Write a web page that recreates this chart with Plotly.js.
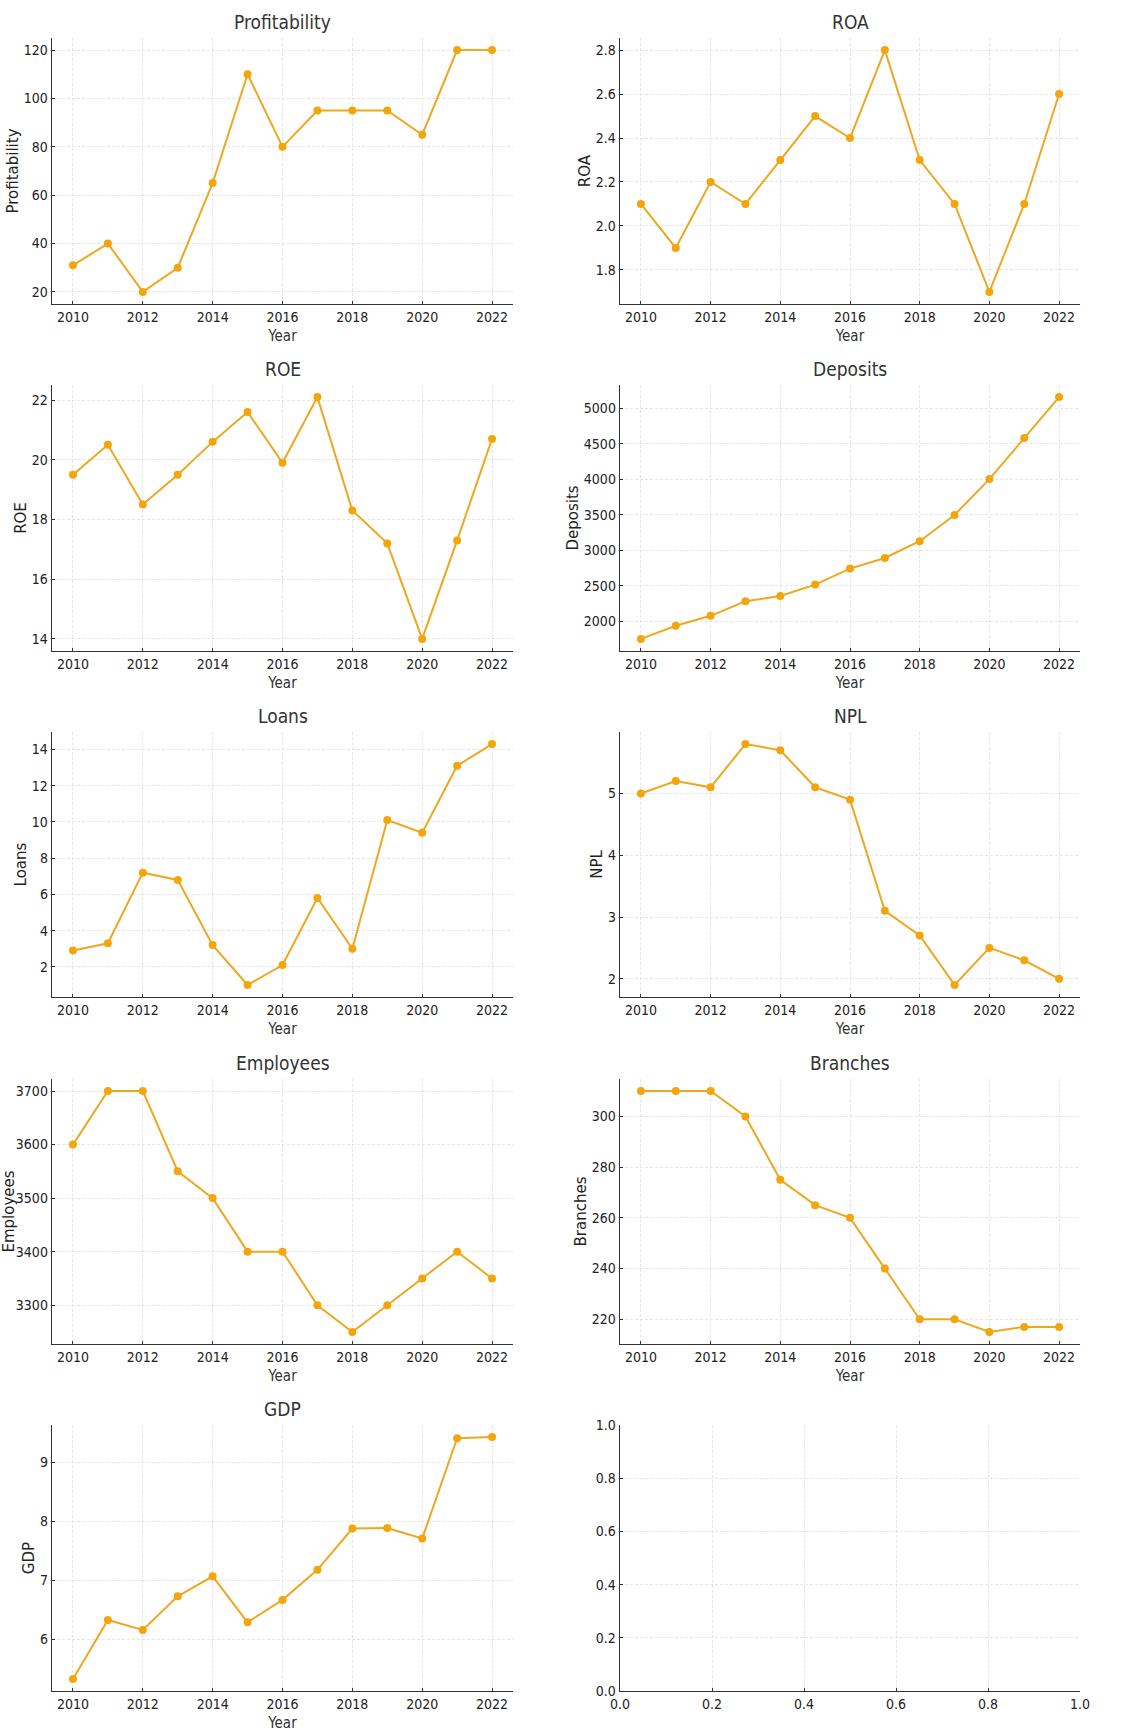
<!DOCTYPE html>
<html>
<head>
<meta charset="utf-8">
<script src="https://cdn.plot.ly/plotly-3.0.1.min.js"></script>
<style>html,body{margin:0;padding:0;background:#fff;}#chart{width:1140px;height:1733px;}</style>
</head>
<body>
<div id="chart"></div>
<script>
const years = [2010, 2011, 2012, 2013, 2014, 2015, 2016, 2017, 2018, 2019, 2020, 2021, 2022];
const profitability = [31, 40, 20, 30, 65, 110, 80, 95, 95, 95, 85, 120, 120];
const roa = [2.1, 1.9, 2.2, 2.1, 2.3, 2.5, 2.4, 2.8, 2.3, 2.1, 1.7, 2.1, 2.6];
const roe = [19.5, 20.5, 18.5, 19.5, 20.6, 21.6, 19.9, 22.1, 18.3, 17.2, 14.0, 17.3, 20.7];
const deposits = [1750, 1935, 2075, 2280, 2355, 2515, 2740, 2890, 3125, 3495, 4000, 4580, 5155];
const loans = [2.9, 3.3, 7.2, 6.8, 3.2, 1.0, 2.1, 5.8, 3.0, 10.1, 9.4, 13.1, 14.3];
const npl = [5.0, 5.2, 5.1, 5.8, 5.7, 5.1, 4.9, 3.1, 2.7, 1.9, 2.5, 2.3, 2.0];
const employees = [3600, 3700, 3700, 3550, 3500, 3400, 3400, 3300, 3250, 3300, 3350, 3400, 3350];
const branches = [310, 310, 310, 300, 275, 265, 260, 240, 220, 220, 215, 217, 217];
const gdp = [5.33, 6.33, 6.16, 6.73, 7.07, 6.29, 6.67, 7.18, 7.88, 7.89, 7.71, 9.41, 9.43];
const xLabel = "Year";

const series = [
  {name: "Profitability", values: profitability, dtick: 20, fmt: "d"},
  {name: "ROA", values: roa, dtick: 0.2, fmt: ".1f"},
  {name: "ROE", values: roe, dtick: 2, fmt: "d"},
  {name: "Deposits", values: deposits, dtick: 500, fmt: "d"},
  {name: "Loans", values: loans, dtick: 2, fmt: "d"},
  {name: "NPL", values: npl, dtick: 1, fmt: "d"},
  {name: "Employees", values: employees, dtick: 100, fmt: "d"},
  {name: "Branches", values: branches, dtick: 20, fmt: "d"},
  {name: "GDP", values: gdp, dtick: 1, fmt: "d"}
];

const W = 1140, H = 1733;
const colX = [[52, 513], [620, 1080]];
const rowY = [[38, 304], [385, 651], [732, 997], [1079, 1344], [1425, 1691]];
const lineColor = "#EDA820";
const markerColor = "#F2A60C";
const condensed = "DejaVu Sans Condensed, DejaVu Sans, sans-serif";
const tickFont = {family: condensed, size: 14, color: "#222"};
const gridColor = "#dedede";

function xdom(c) { return [colX[c][0] / W, colX[c][1] / W]; }
function ydom(r) { return [1 - rowY[r][1] / H, 1 - rowY[r][0] / H]; }

const data = [];
const layout = {
  width: W, height: H,
  margin: {l: 0, r: 0, t: 0, b: 0},
  paper_bgcolor: "#fff", plot_bgcolor: "#fff",
  showlegend: false,
  annotations: []
};

function axisCommon() {
  return {
    showline: true, linecolor: "#333", linewidth: 1.3, mirror: false,
    showgrid: true, gridcolor: gridColor, gridwidth: 0.8, griddash: "3px,2px",
    zeroline: false, ticks: "inside", ticklen: 3, tickcolor: "#333",
    tickfont: tickFont
  };
}

series.forEach((s, i) => {
  const r = Math.floor(i / 2), c = i % 2;
  const k = i + 1;
  const xa = "x" + (k === 1 ? "" : k), ya = "y" + (k === 1 ? "" : k);
  data.push({
    x: years, y: s.values, type: "scatter", mode: "lines+markers",
    xaxis: xa, yaxis: ya,
    line: {color: lineColor, width: 2},
    marker: {color: markerColor, size: 8}
  });
  const mn = Math.min(...s.values), mx = Math.max(...s.values);
  const pad = (mx - mn) * 0.05;
  const xName = "xaxis" + (k === 1 ? "" : k), yName = "yaxis" + (k === 1 ? "" : k);
  layout[xName] = Object.assign(axisCommon(), {
    domain: xdom(c), anchor: ya, range: [2009.4, 2022.6],
    tick0: 2010, dtick: 2,
    title: {text: xLabel, font: {family: condensed, size: 15, color: "#333"}, standoff: 6}
  });
  layout[yName] = Object.assign(axisCommon(), {
    domain: ydom(r), anchor: xa, range: [mn - pad, mx + pad],
    dtick: s.dtick, tickformat: s.fmt,
    title: {text: s.name, font: {family: "DejaVu Sans, sans-serif", size: 15, color: "#222"}, standoff: 1}
  });
  layout.annotations.push({
    text: s.name, xref: "paper", yref: "paper",
    x: (colX[c][0] + colX[c][1]) / 2 / W, y: 1 - (rowY[r][0] - 16) / H,
    xanchor: "center", yanchor: "middle", showarrow: false,
    font: {family: condensed, size: 19, color: "#333"}
  });
});

// empty tenth panel
data.push({x: [], y: [], type: "scatter", mode: "lines", xaxis: "x10", yaxis: "y10", hoverinfo: "skip"});
layout.xaxis10 = Object.assign(axisCommon(), {domain: xdom(1), anchor: "y10", range: [0, 1], dtick: 0.2, tickformat: ".1f"});
layout.yaxis10 = Object.assign(axisCommon(), {domain: ydom(4), anchor: "x10", range: [0, 1], dtick: 0.2, tickformat: ".1f"});

Plotly.newPlot("chart", data, layout, {displayModeBar: false, staticPlot: true});
</script>
</body>
</html>
